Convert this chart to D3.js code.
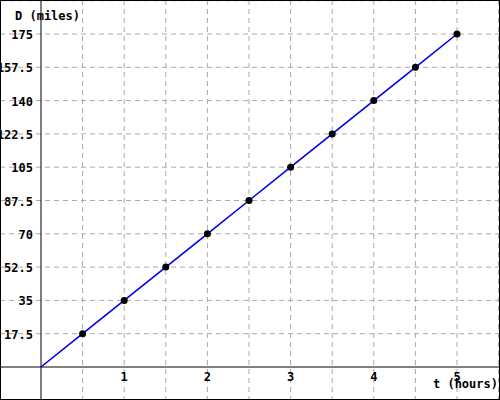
<!DOCTYPE html>
<html><head><meta charset="utf-8">
<script src="https://cdn.jsdelivr.net/npm/d3@7"></script>
<style>body{margin:0}svg{display:block}</style>
</head><body><svg id="c" width="500" height="400"></svg>
<script>
const tValues=[0,0.5,1,1.5,2,2.5,3,3.5,4,4.5,5];
const dValues=[0,17.5,35,52.5,70,87.5,105,122.5,140,157.5,175];
const xTicks=[1,2,3,4,5];
const yTicks=[17.5,35,52.5,70,87.5,105,122.5,140,157.5,175];
const xGrid=[0.5,1,1.5,2,2.5,3,3.5,4,4.5,5,5.5];
const yGrid=[-17.5,17.5,35,52.5,70,87.5,105,122.5,140,157.5,175,192.5];
const svg=d3.select("#c");
const x=d3.scaleLinear().domain([0,5]).range([41,457]);
const y=d3.scaleLinear().domain([0,175]).range([367,34]);
const font="'DejaVu Sans Mono', monospace";
svg.append("rect").attr("width",500).attr("height",400).attr("fill","#fff");
svg.selectAll(".vg").data(xGrid).join("line").attr("x1",d=>x(d)).attr("x2",d=>x(d)).attr("y1",0).attr("y2",400)
 .attr("stroke","#aaa").attr("stroke-dasharray","5,4");
svg.selectAll(".hg").data(yGrid).join("line").attr("y1",d=>y(d)).attr("y2",d=>y(d)).attr("x1",0).attr("x2",500)
 .attr("stroke","#aaa").attr("stroke-dasharray","5,4");
svg.append("line").attr("x1",0).attr("x2",500).attr("y1",y(0)).attr("y2",y(0)).attr("stroke","#000");
svg.append("line").attr("x1",x(0)).attr("x2",x(0)).attr("y1",0).attr("y2",400).attr("stroke","#000");
svg.selectAll(".yl").data(yTicks).join("text").attr("x",33).attr("y",d=>y(d)+5).attr("text-anchor","end")
 .attr("font-family",font).attr("font-size",12).attr("font-weight","bold").text(d=>d);
svg.selectAll(".xl").data(xTicks).join("text").attr("x",d=>x(d)).attr("y",381).attr("text-anchor","middle")
 .attr("font-family",font).attr("font-size",12).attr("font-weight","bold").text(d=>d);
svg.append("text").attr("x",15).attr("y",20).attr("font-family",font).attr("font-size",12).attr("font-weight","bold").text("D (miles)");
svg.append("text").attr("x",498).attr("y",388).attr("text-anchor","end").attr("font-family",font).attr("font-size",12).attr("font-weight","bold").text("t (hours)");
const pts=tValues.map((t,i)=>[t,dValues[i]]);
svg.append("path").datum(pts).attr("d",d3.line().x(d=>x(d[0])).y(d=>y(d[1]))).attr("fill","none").attr("stroke","#0000ee").attr("stroke-width",1.6);
svg.selectAll(".pt").data(pts.slice(1)).join("circle").attr("cx",d=>x(d[0])).attr("cy",d=>y(d[1])).attr("r",3.5).attr("fill","#000");
svg.append("rect").attr("x",0.5).attr("y",0.5).attr("width",499).attr("height",399).attr("fill","none").attr("stroke","#000");
</script></body></html>
